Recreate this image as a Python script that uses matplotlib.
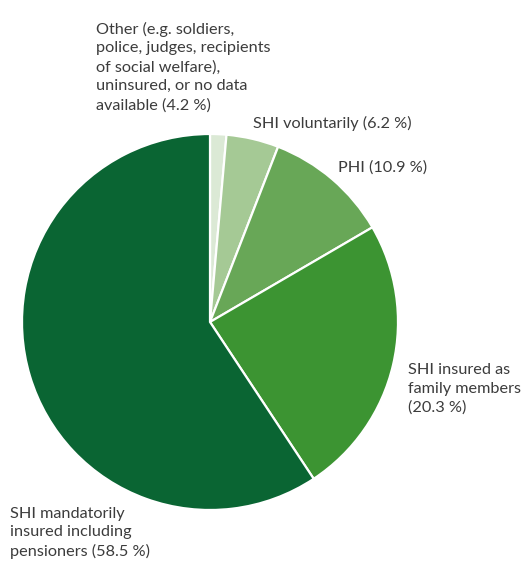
import matplotlib.pyplot as plt

# ==========================
# Data (wedge sizes, labels as printed)
# ==========================
groups = [
    "Other",
    "SHI voluntarily",
    "PHI",
    "SHI family",
    "SHI mandatory",
]
shares = [1.4, 4.5, 10.7, 24.1, 59.3]
colors = ["#dbe9d5", "#a5c995", "#68a757", "#3c9432", "#0a6533"]

label_texts = [
    "Other (e.g. soldiers,\npolice, judges, recipients\nof social welfare),\nuninsured, or no data\navailable (4.2 %)",
    "SHI voluntarily (6.2 %)",
    "PHI (10.9 %)",
    "SHI insured as\nfamily members\n(20.3 %)",
    "SHI mandatorily\ninsured including\npensioners (58.5 %)",
]
# label anchor (left x, centre y) in pixels from top-left
label_pos = [(96, 67), (253, 123), (338, 168), (408, 389), (10, 533)]

W, H = 526, 563

# ==========================
# Pie
# ==========================
fig = plt.figure(figsize=(W / 100, H / 100), dpi=100)
ax = fig.add_axes([0, 0, 1, 1])
ax.set_xlim(0, W)
ax.set_ylim(0, H)
ax.set_aspect("equal")
ax.axis("off")

ax.pie(
    shares,
    colors=colors,
    startangle=90,
    counterclock=False,
    center=(210, H - 322),
    radius=188,
    wedgeprops={"edgecolor": "white", "linewidth": 1.6},
)
ax.set_xlim(0, W)
ax.set_ylim(0, H)

for txt, (x, y) in zip(label_texts, label_pos):
    ax.text(
        x, H - y, txt,
        ha="left", va="center",
        fontsize=11.7, family="Lato",
        color="#3c3c3c", linespacing=1.42,
    )

plt.savefig("out.png", dpi=100)
plt.close()
